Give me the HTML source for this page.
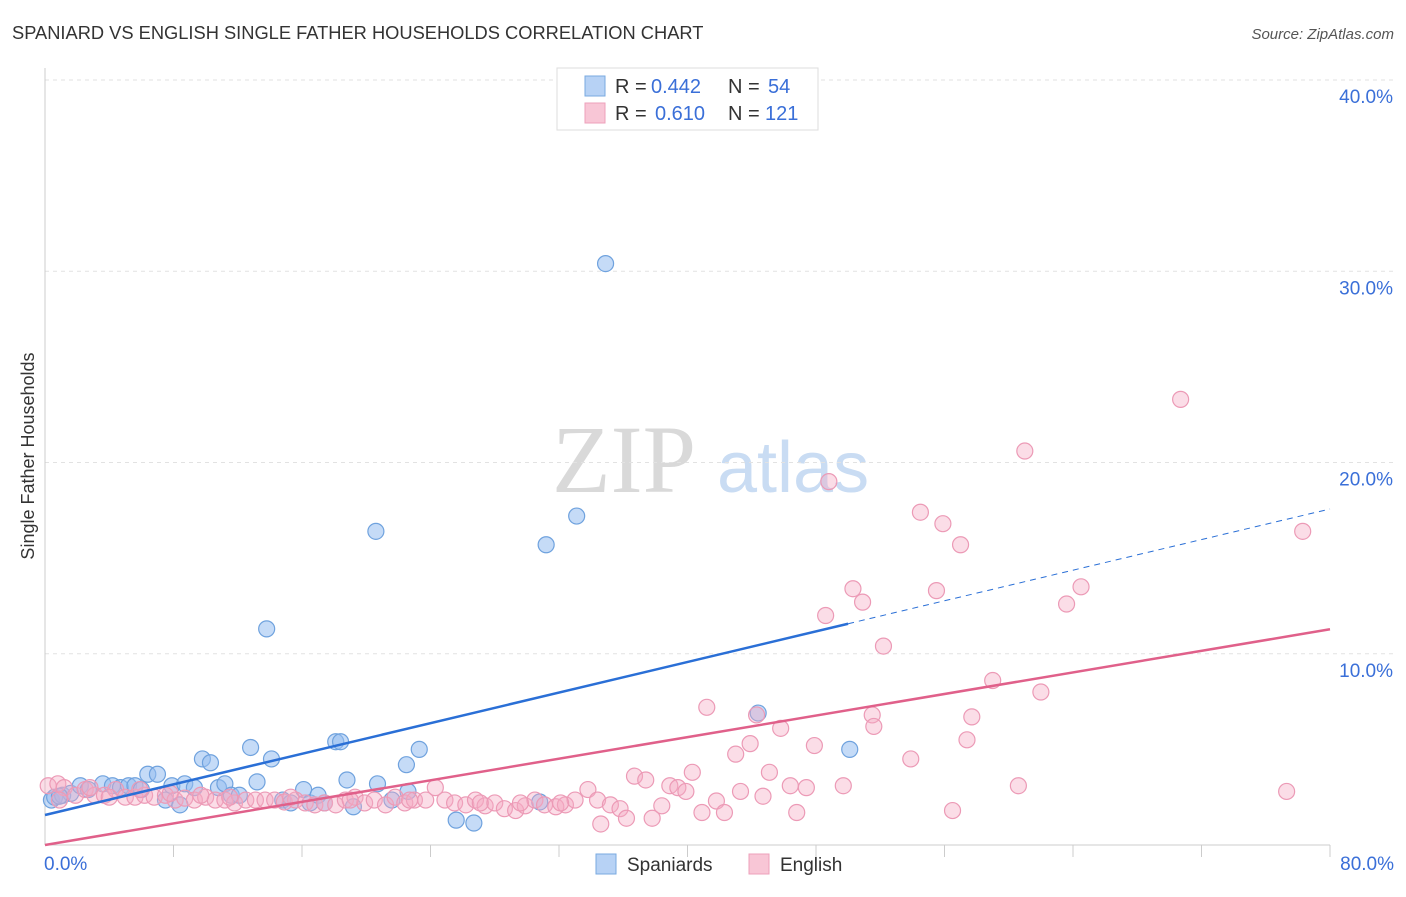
<!DOCTYPE html>
<html><head><meta charset="utf-8">
<style>
body{margin:0;background:#fff;font-family:"Liberation Sans",sans-serif;}
</style></head>
<body>
<svg width="1406" height="892" xmlns="http://www.w3.org/2000/svg" style="font-family:'Liberation Sans',sans-serif">
<text x="12" y="39" font-size="18.3" fill="#333">SPANIARD VS ENGLISH SINGLE FATHER HOUSEHOLDS CORRELATION CHART</text>
<text x="1394" y="39" font-size="15" fill="#555" text-anchor="end" font-style="italic">Source: ZipAtlas.com</text>
<g>
<text x="552" y="492" style="font-family:'Liberation Serif',serif;font-size:96px" fill="#d9d9d9">ZIP</text>
<text x="717" y="492" style="font-family:'Liberation Sans',sans-serif;font-size:72px" fill="#c9dcf3">atlas</text>
</g>
<g id="grid"></g>
<g id="axes"></g>
<g id="marks"></g>
<g id="trends"></g>
<text transform="translate(34,456) rotate(-90)" font-size="18" fill="#333" text-anchor="middle">Single Father Households</text>
<g>
<rect x="557" y="68" width="261" height="62" fill="#fff" stroke="#ddd"/>
<rect x="585" y="76" width="20" height="20" fill="#b7d2f5" stroke="#7aaae0"/>
<rect x="585" y="103" width="20" height="20" fill="#f8c6d6" stroke="#eea0bb"/>
<text x="615" y="93" font-size="20" fill="#333">R =</text>
<text x="651" y="93" font-size="20" fill="#3a6fd8">0.442</text>
<text x="728" y="93" font-size="20" fill="#333">N =</text>
<text x="768" y="93" font-size="20" fill="#3a6fd8">54</text>
<text x="615" y="120" font-size="20" fill="#333">R =</text>
<text x="655" y="120" font-size="20" fill="#3a6fd8">0.610</text>
<text x="728" y="120" font-size="20" fill="#333">N =</text>
<text x="765" y="120" font-size="20" fill="#3a6fd8">121</text>
</g>
<g>
<rect x="596" y="854" width="20" height="20" fill="#b7d2f5" stroke="#7aaae0"/>
<text x="627" y="871" font-size="19" fill="#333">Spaniards</text>
<rect x="749" y="854" width="20" height="20" fill="#f8c6d6" stroke="#eea0bb"/>
<text x="780" y="871" font-size="19" fill="#333">English</text>
</g>
</svg>
<script>
const yTicks=[10,20,30,40];
const yTickLabels=["10.0%","20.0%","30.0%","40.0%"];
const xTickVals=[8,16,24,32,40,48,56,64,72,80];
const xEndLabels=["0.0%","80.0%"];
const blueX=[0.4,0.6,1.1,1.6,2.2,2.7,3.6,4.2,4.7,5.2,5.6,6.0,6.4,7.0,7.5,7.9,8.4,8.7,9.3,9.8,10.3,10.8,11.2,11.6,12.1,12.8,13.2,13.8,14.1,14.8,15.3,16.1,16.5,17.0,17.4,18.1,18.4,18.8,19.2,20.6,20.7,21.6,22.5,22.6,23.3,25.6,26.7,30.8,31.2,33.1,34.9,44.4,50.1,0.9];
const blueY=[2.35,2.5,2.6,2.7,3.1,2.9,3.2,3.1,3.0,3.1,3.1,2.9,3.7,3.7,2.35,3.1,2.1,3.2,3.0,4.5,4.3,3.0,3.2,2.6,2.6,5.1,3.3,11.3,4.5,2.35,2.2,2.9,2.2,2.6,2.2,5.4,5.4,3.4,2.0,16.4,3.2,2.35,4.2,2.8,5.0,1.3,1.15,2.25,15.7,17.2,30.4,6.9,5.0,2.55];
const pinkX=[0.2,0.8,1.2,1.9,2.5,3.1,3.7,4.4,5.0,5.6,6.2,6.8,7.5,8.1,8.7,9.3,10.0,10.6,11.2,11.8,12.5,13.1,13.7,14.3,14.9,15.6,16.2,16.8,17.4,18.1,18.7,19.3,19.9,20.5,21.2,21.8,22.4,23.0,23.7,24.3,24.9,25.5,26.2,26.8,27.4,28.0,28.6,29.3,29.9,30.5,31.1,31.8,32.4,33.0,33.8,34.4,34.6,35.2,35.8,36.2,36.7,37.4,37.8,38.4,38.9,39.4,39.9,40.3,40.9,41.2,41.8,42.3,43.0,43.3,43.9,44.3,44.7,45.1,45.8,46.4,46.8,47.4,47.9,48.6,48.8,49.7,50.3,50.9,51.5,51.6,52.2,53.9,54.5,55.5,55.9,56.5,57.0,57.4,57.7,59.0,60.6,61.0,62.0,63.6,64.5,70.7,77.3,78.3,0.9,2.8,4.0,5.9,7.8,9.7,11.5,15.3,19.0,22.7,27.1,29.6,32.1];
const pinkY=[3.1,3.2,3.0,2.6,2.9,2.6,2.6,2.9,2.5,2.5,2.6,2.5,2.6,2.35,2.45,2.35,2.5,2.35,2.35,2.2,2.35,2.35,2.35,2.35,2.25,2.35,2.2,2.1,2.2,2.1,2.35,2.5,2.2,2.35,2.1,2.5,2.2,2.35,2.35,3.0,2.35,2.2,2.1,2.35,2.05,2.2,1.9,1.8,2.05,2.35,2.1,2.0,2.1,2.35,2.9,2.35,1.1,2.1,1.9,1.4,3.6,3.4,1.4,2.05,3.1,3.0,2.8,3.8,1.7,7.2,2.3,1.7,4.75,2.8,5.3,6.8,2.55,3.8,6.1,3.1,1.7,3.0,5.2,12.0,19.0,3.1,13.4,12.7,6.8,6.2,10.4,4.5,17.4,13.3,16.8,1.8,15.7,5.5,6.7,8.6,3.1,20.6,8.0,12.6,13.5,23.3,2.8,16.4,2.35,3.0,2.5,2.9,2.7,2.6,2.5,2.5,2.35,2.35,2.2,2.2,2.2];
const blueTrend=[1.57,0.2,50,80];
const pinkTrend=[0,0.141,80];
const NS="http://www.w3.org/2000/svg";
const X0=45,X1=1330,Y0=845,Y40=80;
const sx=v=>X0+(X1-X0)*v/80;
const sy=v=>Y0-(Y0-Y40)*v/40;
function mk(t,a,p){const e=document.createElementNS(NS,t);for(const k in a)e.setAttribute(k,a[k]);document.getElementById(p).appendChild(e);return e;}
yTicks.forEach((v,i)=>{
 const g=mk('line',{x1:X0,x2:1394,y1:sy(v),y2:sy(v),stroke:'#e2e2e2','stroke-dasharray':'4,4'},'grid');
 
 
 const t=mk('text',{x:1393,y:sy(v)+23,'font-size':19,fill:'#3a6fd8','text-anchor':'end'},'axes');
 t.textContent=yTickLabels[i];
 
 
});
const ax=mk('line',{x1:X0,x2:X0,y1:68,y2:Y0,stroke:'#ccc'},'axes');


const bx=mk('line',{x1:X0,x2:X1,y1:Y0,y2:Y0,stroke:'#ccc'},'axes');


xTickVals.forEach(v=>{
 const l=mk('line',{x1:sx(v),x2:sx(v),y1:Y0,y2:Y0+12,stroke:'#ccc'},'axes');
 
 
});
[[0,'start',44],[80,'end',1394]].forEach((d,i)=>{
 const t=mk('text',{x:d[2],y:870,'font-size':19,fill:'#3a6fd8','text-anchor':d[1]},'axes');
 t.textContent=xEndLabels[i];
 
 
});
blueX.forEach((x,i)=>{
 const c=mk('circle',{cx:sx(x),cy:sy(blueY[i]),r:8,fill:'rgba(150,190,240,0.55)',stroke:'#6fa2de','stroke-width':1.2},'marks');
 
 
});
pinkX.forEach((x,i)=>{
 const c=mk('circle',{cx:sx(x),cy:sy(pinkY[i]),r:8,fill:'rgba(245,170,195,0.4)',stroke:'#ec9ab6','stroke-width':1.2},'marks');
 
 
});
const b=blueTrend;
const l1=mk('line',{x1:sx(0),y1:sy(b[0]),x2:sx(b[2]),y2:sy(b[0]+b[1]*b[2]),stroke:'#2a6fd6','stroke-width':2.5},'trends');


const l2=mk('line',{x1:sx(b[2]),y1:sy(b[0]+b[1]*b[2]),x2:sx(b[3]),y2:sy(b[0]+b[1]*b[3]),stroke:'#2a6fd6','stroke-width':1,'stroke-dasharray':'6,5'},'trends');


const p=pinkTrend;
const l3=mk('line',{x1:sx(0),y1:sy(p[0]),x2:sx(p[2]),y2:sy(p[0]+p[1]*p[2]),stroke:'#e0608a','stroke-width':2.5},'trends');


</script>
</body></html>
